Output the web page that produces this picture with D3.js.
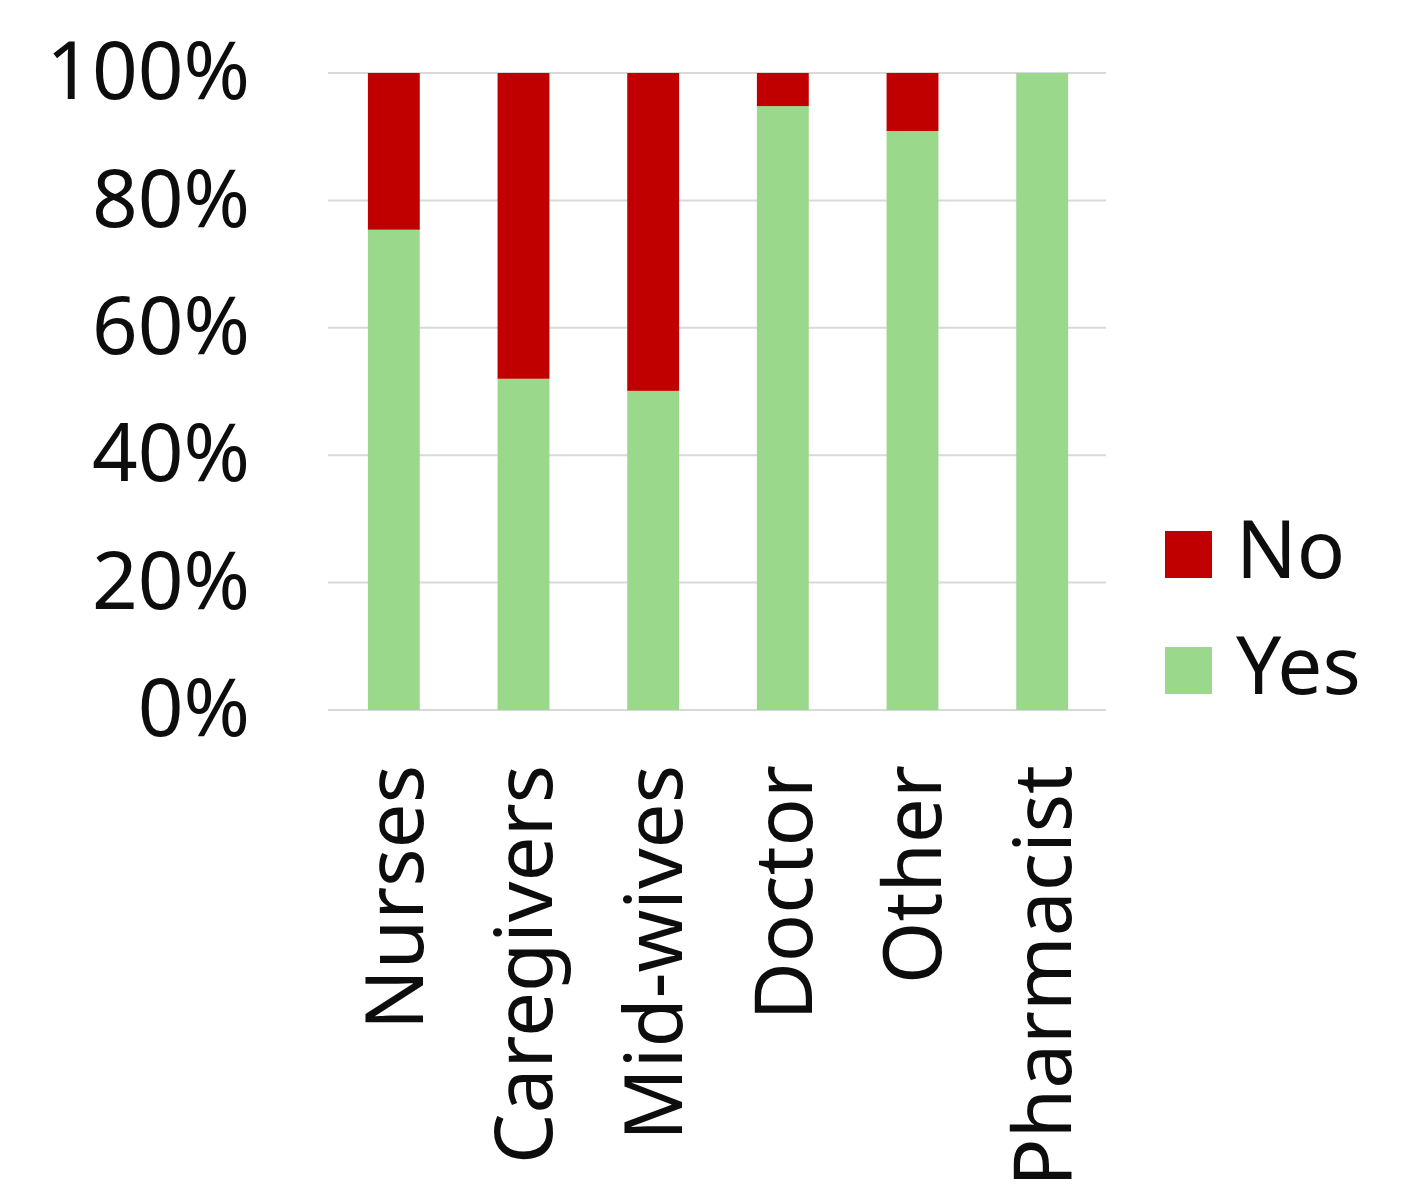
<!DOCTYPE html>
<html>
<head>
<meta charset="utf-8">
<script src="https://cdn.jsdelivr.net/npm/d3@7"></script>
<style>
  html, body { margin: 0; padding: 0; background: #fff; }
  text { font-family: "Noto Sans", "Open Sans", sans-serif; fill: #0d0d0d; }
</style>
</head>
<body>
<svg id="chart" width="1428" height="1190"></svg>
<script>
const categories = ["Nurses", "Caregivers", "Mid-wives", "Doctor", "Other", "Pharmacist"];
const yesValues = [0.754, 0.52, 0.501, 0.948, 0.909, 1.0];
const noValues = [0.246, 0.48, 0.499, 0.052, 0.091, 0.0];
const seriesNames = ["Yes", "No"];
const seriesColors = ["#9AD98C", "#C00000"];
const yTicks = [0, 0.2, 0.4, 0.6, 0.8, 1.0];

const svg = d3.select("#chart");
const plot = { left: 328, right: 1106, top: 73, bottom: 710 };
const fontSize = 80;

const x = d3.scaleBand().domain(categories).range([plot.left, plot.right]).paddingInner(0.6).paddingOuter(0.3);
const y = d3.scaleLinear().domain([0, 1]).range([plot.bottom, plot.top]);

// gridlines
svg.append("g").selectAll("line").data(yTicks).join("line")
  .attr("x1", plot.left).attr("x2", plot.right)
  .attr("y1", d => y(d)).attr("y2", d => y(d))
  .attr("stroke", "#d9d9d9").attr("stroke-width", 2);

// stacked bars
const rows = categories.map((c, i) => ({ cat: c, Yes: yesValues[i], No: noValues[i] }));
const stack = d3.stack().keys(seriesNames)(rows);
svg.append("g").selectAll("g").data(stack).join("g")
  .attr("fill", (d, i) => seriesColors[i])
  .selectAll("rect").data(d => d).join("rect")
  .attr("x", d => x(d.data.cat) + 1)
  .attr("width", x.bandwidth())
  .attr("y", d => y(d[1]))
  .attr("height", d => y(d[0]) - y(d[1]));

// y axis labels
const yAxis = d3.axisLeft(y).tickValues(yTicks).tickFormat(d3.format(".0%")).tickSize(0).tickPadding(78);
const yg = svg.append("g").attr("transform", `translate(${plot.left},0)`).call(yAxis);
yg.select(".domain").remove();
yg.selectAll("text").attr("font-size", fontSize).attr("font-family", null).attr("fill", "#0d0d0d").attr("dy", "0.32em");

// x axis labels (rotated)
svg.append("g").selectAll("text").data(categories).join("text")
  .attr("transform", d => `translate(${x(d) + x.bandwidth() / 2 + 1},765) rotate(-90)`)
  .attr("text-anchor", "end")
  .attr("dy", "0.36em")
  .attr("font-size", fontSize)
  .text(d => d);

// legend
const legendItems = [{ name: "No", color: seriesColors[1] }, { name: "Yes", color: seriesColors[0] }];
const lg = svg.append("g").selectAll("g").data(legendItems).join("g")
  .attr("transform", (d, i) => `translate(1165,${531 + i * 116})`);
lg.append("rect").attr("width", 47).attr("height", 47).attr("fill", d => d.color);
lg.append("text").attr("x", 71).attr("y", 47).attr("font-size", fontSize).text(d => d.name);
</script>
</body>
</html>
